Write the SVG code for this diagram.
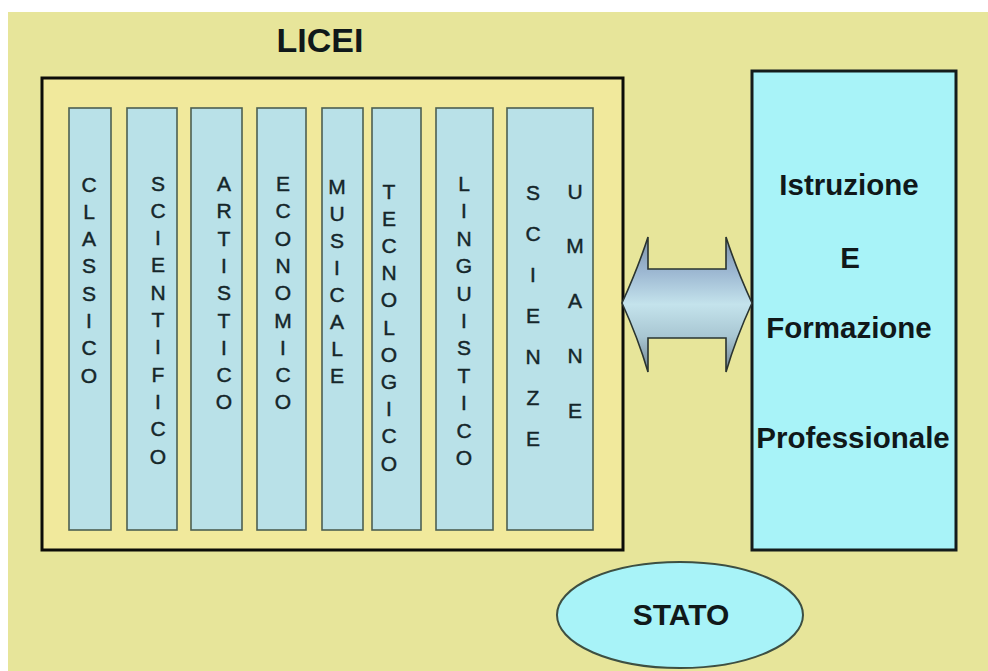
<svg xmlns="http://www.w3.org/2000/svg" width="988" height="671" viewBox="0 0 988 671">
  <style>
    .col { fill: #b9e1e8; stroke: #4d5f52; stroke-width: 1.6; }
    .vt { font-family: "Liberation Sans", Arial, sans-serif; font-size: 21px; fill: #15262a; stroke: #15262a; stroke-width: 0.45; text-anchor: middle; }
    .bt { font-family: "Liberation Sans", Arial, sans-serif; font-weight: bold; fill: #10181a; text-anchor: middle; }
  </style>
  <defs>
    <linearGradient id="shaftGrad" x1="0" y1="0" x2="0" y2="1">
      <stop offset="0" stop-color="#7e93a8"/>
      <stop offset="0.26" stop-color="#9db8d2"/>
      <stop offset="0.5" stop-color="#c4e3ec"/>
      <stop offset="0.74" stop-color="#a8c6d2"/>
      <stop offset="1" stop-color="#6f8292"/>
    </linearGradient>
  </defs>

  <!-- page background -->
  <rect x="0" y="0" width="988" height="671" fill="#ffffff"/>
  <rect x="8" y="12" width="980" height="659" fill="#e7e59a"/>

  <!-- title -->
  <text class="bt" x="320" y="52" font-size="34">LICEI</text>

  <!-- licei container with the eight courses -->
  <g id="licei">
    <rect x="42" y="78" width="581" height="472" fill="#f1e99c" stroke="#0c0c08" stroke-width="3"/>

    <g id="classico">
      <rect class="col" x="69" y="108" width="42" height="422"/>
      <text class="vt" y="191.5"><tspan x="89">C</tspan><tspan x="89" dy="27.3">L</tspan><tspan x="89" dy="27.3">A</tspan><tspan x="89" dy="27.3">S</tspan><tspan x="89" dy="27.3">S</tspan><tspan x="89" dy="27.3">I</tspan><tspan x="89" dy="27.3">C</tspan><tspan x="89" dy="27.3">O</tspan></text>
    </g>
    <g id="scientifico">
      <rect class="col" x="127" y="108" width="50" height="422"/>
      <text class="vt" y="190.5"><tspan x="158">S</tspan><tspan x="158" dy="27.3">C</tspan><tspan x="158" dy="27.3">I</tspan><tspan x="158" dy="27.3">E</tspan><tspan x="158" dy="27.3">N</tspan><tspan x="158" dy="27.3">T</tspan><tspan x="158" dy="27.3">I</tspan><tspan x="158" dy="27.3">F</tspan><tspan x="158" dy="27.3">I</tspan><tspan x="158" dy="27.3">C</tspan><tspan x="158" dy="27.3">O</tspan></text>
    </g>
    <g id="artistico">
      <rect class="col" x="191" y="108" width="51" height="422"/>
      <text class="vt" y="191"><tspan x="224">A</tspan><tspan x="224" dy="27.3">R</tspan><tspan x="224" dy="27.3">T</tspan><tspan x="224" dy="27.3">I</tspan><tspan x="224" dy="27.3">S</tspan><tspan x="224" dy="27.3">T</tspan><tspan x="224" dy="27.3">I</tspan><tspan x="224" dy="27.3">C</tspan><tspan x="224" dy="27.3">O</tspan></text>
    </g>
    <g id="economico">
      <rect class="col" x="257" y="108" width="49" height="422"/>
      <text class="vt" y="191"><tspan x="283">E</tspan><tspan x="283" dy="27.3">C</tspan><tspan x="283" dy="27.3">O</tspan><tspan x="283" dy="27.3">N</tspan><tspan x="283" dy="27.3">O</tspan><tspan x="283" dy="27.3">M</tspan><tspan x="283" dy="27.3">I</tspan><tspan x="283" dy="27.3">C</tspan><tspan x="283" dy="27.3">O</tspan></text>
    </g>
    <g id="musicale">
      <rect class="col" x="322" y="108" width="41" height="422"/>
      <text class="vt" y="193.5"><tspan x="337">M</tspan><tspan x="337" dy="27">U</tspan><tspan x="337" dy="27">S</tspan><tspan x="337" dy="27">I</tspan><tspan x="337" dy="27">C</tspan><tspan x="337" dy="27">A</tspan><tspan x="337" dy="27">L</tspan><tspan x="337" dy="27">E</tspan></text>
    </g>
    <g id="tecnologico">
      <rect class="col" x="372" y="108" width="49" height="422"/>
      <text class="vt" y="198.5"><tspan x="389">T</tspan><tspan x="389" dy="27.2">E</tspan><tspan x="389" dy="27.2">C</tspan><tspan x="389" dy="27.2">N</tspan><tspan x="389" dy="27.2">O</tspan><tspan x="389" dy="27.2">L</tspan><tspan x="389" dy="27.2">O</tspan><tspan x="389" dy="27.2">G</tspan><tspan x="389" dy="27.2">I</tspan><tspan x="389" dy="27.2">C</tspan><tspan x="389" dy="27.2">O</tspan></text>
    </g>
    <g id="linguistico">
      <rect class="col" x="436" y="108" width="57" height="422"/>
      <text class="vt" y="191"><tspan x="464">L</tspan><tspan x="464" dy="27.4">I</tspan><tspan x="464" dy="27.4">N</tspan><tspan x="464" dy="27.4">G</tspan><tspan x="464" dy="27.4">U</tspan><tspan x="464" dy="27.4">I</tspan><tspan x="464" dy="27.4">S</tspan><tspan x="464" dy="27.4">T</tspan><tspan x="464" dy="27.4">I</tspan><tspan x="464" dy="27.4">C</tspan><tspan x="464" dy="27.4">O</tspan></text>
    </g>
    <g id="scienze-umane">
      <rect class="col" x="507" y="108" width="86" height="422"/>
      <text class="vt" y="200"><tspan x="533">S</tspan><tspan x="533" dy="41">C</tspan><tspan x="533" dy="41">I</tspan><tspan x="533" dy="41">E</tspan><tspan x="533" dy="41">N</tspan><tspan x="533" dy="41">Z</tspan><tspan x="533" dy="41">E</tspan></text>
      <text class="vt" y="198.5"><tspan x="575">U</tspan><tspan x="575" dy="54.9">M</tspan><tspan x="575" dy="54.9">A</tspan><tspan x="575" dy="54.9">N</tspan><tspan x="575" dy="54.9">E</tspan></text>
    </g>
  </g>

  <!-- vocational training block -->
  <g id="iefp">
    <rect x="752" y="71" width="204" height="479" fill="#a8f3f8" stroke="#141c1c" stroke-width="3"/>
    <text class="bt" font-size="29.5" x="849" y="195">Istruzione</text>
    <text class="bt" font-size="29.5" x="850" y="268">E</text>
    <text class="bt" font-size="29.5" x="849" y="338">Formazione</text>
    <text class="bt" font-size="29.5" x="853" y="448">Professionale</text>
  </g>

  <!-- state -->
  <g id="stato">
    <ellipse cx="680" cy="615" rx="123" ry="53" fill="#a8f3f8" stroke="#3d4f42" stroke-width="2"/>
    <text class="bt" font-size="30" x="681" y="625">STATO</text>
  </g>

  <!-- two-way link between the licei and the training block -->
  <g id="connectors">
    <path d="M622,303 Q638,268 648,237 L648,269 L726,269 L726,237 Q736,268 752,303 Q736,338 726,372 L726,338 L648,338 L648,372 Q638,338 622,303 Z" fill="url(#shaftGrad)" stroke="#2a3430" stroke-width="1.6" stroke-linejoin="miter"/>
  </g>
</svg>
